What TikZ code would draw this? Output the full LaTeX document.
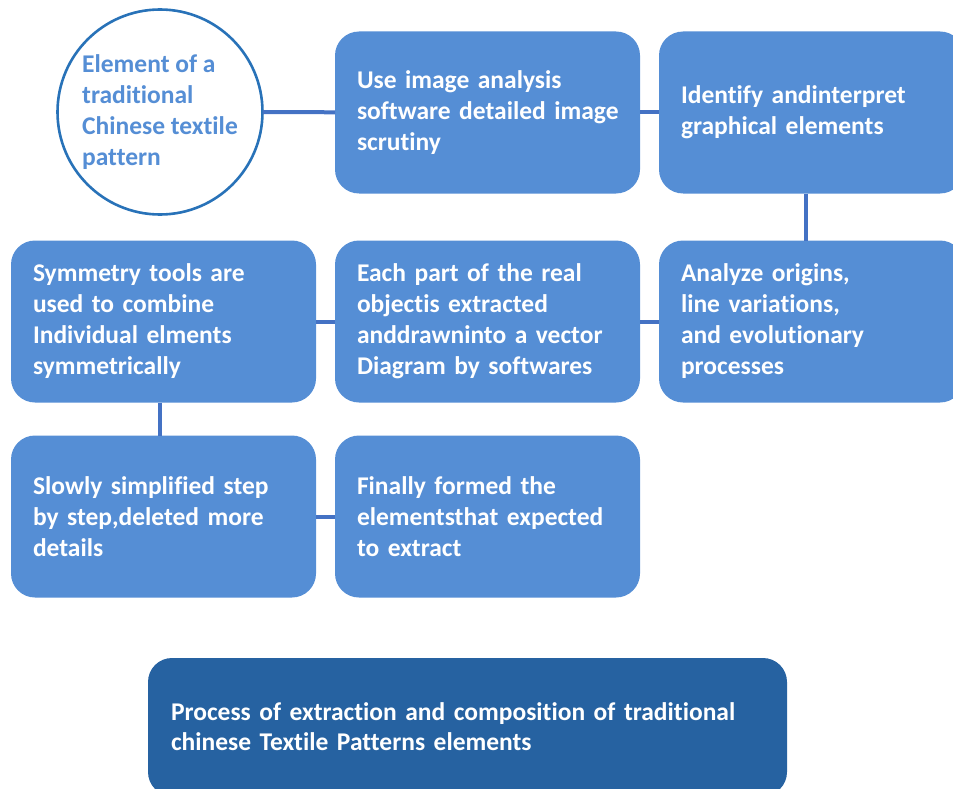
\documentclass[tikz,border=0pt]{standalone}
\usepackage{fontspec}
\setmainfont{Carlito}[RawFeature=-liga]
\usepackage{xcolor}
\usetikzlibrary{positioning}
\definecolor{boxblue}{RGB}{85,142,213}
\definecolor{darkblue}{RGB}{38,98,161}
\definecolor{ringblue}{RGB}{40,114,184}
\definecolor{linkblue}{RGB}{68,114,196}

\begin{document}
\begin{tikzpicture}[
    x=1pt, y=-1pt,
    node distance=19pt,
    stepbox/.style={rectangle, fill=boxblue, rounded corners=24pt, minimum width=305pt, minimum height=162pt, text width=261pt, inner xsep=22pt, outer sep=0pt, align=left, text=white, font=\fontsize{25.5}{31}\selectfont\bfseries},
    startnode/.style={circle, draw=ringblue, line width=2.6pt, fill=white, minimum size=205pt, inner sep=0pt, outer sep=0pt, align=left, text=boxblue, font=\fontsize{25.5}{31}\selectfont\bfseries},
    titlebox/.style={rectangle, fill=darkblue, rounded corners=24pt, minimum width=639pt, minimum height=138pt, text width=593pt, inner xsep=23pt, outer sep=0pt, align=left, text=white, font=\fontsize{25.5}{30}\selectfont\bfseries},
    link/.style={linkblue, line width=4pt}
]
    \useasboundingbox (0,0) rectangle (953,789);

    % Steps
    \node[startnode] (element) at (160,112) {Element of a\\traditional\\Chinese textile\\pattern};
    \node[stepbox] (analysis) at (487.5,112.5) {Use image analysis\\\mbox{software detailed image}\\scrutiny};
    \node[stepbox, right=of analysis] (identify) {Identify andinterpret\\graphical elements};
    \node[stepbox, below=47pt of identify] (origins) {Analyze origins,\\line variations,\\and evolutionary\\processes};
    \node[stepbox, left=of origins] (vector) {Each part of the real\\objectis extracted\\anddrawninto a vector\\Diagram by softwares};
    \node[stepbox, left=of vector] (symmetry) {Symmetry tools are\\used to combine\\Individual elments\\symmetrically};
    \node[stepbox, below=33pt of symmetry] (simplify) {Slowly simplified step\\by step,deleted more\\details};
    \node[stepbox, right=of simplify] (final) {Finally formed the\\elementsthat expected\\to extract};

    % Title
    \node[titlebox] (title) at (467.5,727) {Process of extraction and composition of traditional\\chinese Textile Patterns elements};

    % Links
    \draw[link] (element) -- (analysis);
    \draw[link] (analysis) -- (identify);
    \draw[link] ([xshift=-6pt]identify.south) -- ([xshift=-6pt]origins.north);
    \draw[link] (origins) -- (vector);
    \draw[link] (vector) -- (symmetry);
    \draw[link] ([xshift=-4pt]symmetry.south) -- ([xshift=-4pt]simplify.north);
    \draw[link] (simplify) -- (final);
\end{tikzpicture}
\end{document}
